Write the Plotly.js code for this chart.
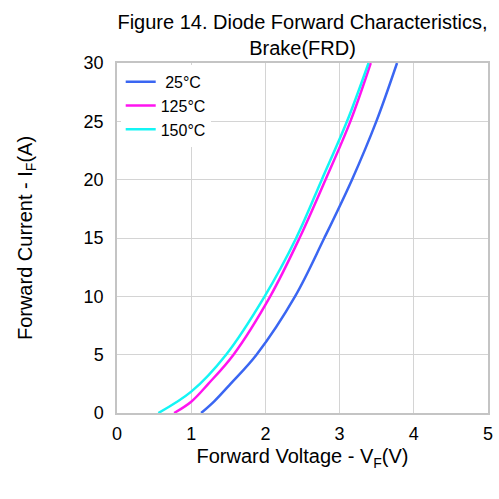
<!DOCTYPE html>
<html><head><meta charset="utf-8">
<script src="https://cdn.plot.ly/plotly-3.0.1.min.js"></script>
<style>body{margin:0;background:#fff}#c{width:499px;height:499px}</style>
</head><body><div id="c"></div>
<script>
var seriesNames = [" 25°C", "125°C", "150°C"];
var v25 = [1.134, 1.31, 1.53, 1.88, 2.40, 2.794, 3.167, 3.495, 3.774];
var i25 = [0, 1, 2.5, 5, 10, 15, 20, 25, 30];
var v125 = [0.77, 1.0, 1.23, 1.57, 2.065, 2.46, 2.81, 3.145, 3.42];
var i125 = [0, 0.97, 2.5, 5, 10, 15, 20, 25, 30];
var v150 = [0.557, 1.0, 1.47, 1.99, 2.415, 2.76, 3.10, 3.39];
var i150 = [0, 1.83, 5, 10, 15, 20, 25, 30];
var colors = ["#3a66f2", "#ff14f0", "#14f5f5"];

var traces = [
  {x: v25, y: i25, name: seriesNames[0], mode: "lines", line: {color: colors[0], width: 2.5, shape: "spline", smoothing: 1}},
  {x: v125, y: i125, name: seriesNames[1], mode: "lines", line: {color: colors[1], width: 2.5, shape: "spline", smoothing: 1}},
  {x: v150, y: i150, name: seriesNames[2], mode: "lines", line: {color: colors[2], width: 2.5, shape: "spline", smoothing: 1}}
];
var layout = {
  width: 499, height: 499,
  margin: {l: 117, r: 11, t: 63, b: 86},
  paper_bgcolor: "#fff", plot_bgcolor: "#fff",
  font: {family: "Liberation Sans, Arial, sans-serif", size: 18, color: "#000"},
  title: {text: "Figure 14. Diode Forward Characteristics,<br>Brake(FRD)", x: 0.5, xref: "paper", xanchor: "center",
          y: 1, yref: "paper", yanchor: "bottom", pad: {b: 34}, font: {size: 20}},
  xaxis: {range: [0, 5], dtick: 1, showgrid: true, gridcolor: "#d4d4d4", gridwidth: 1.2,
          showline: true, linecolor: "#c4c4c4", linewidth: 1.5, mirror: true, zeroline: false, ticks: "",
          ticklabelstandoff: 4,
          title: {text: "Forward Voltage - V<sub>F</sub>(V)", font: {size: 20}, standoff: 6}},
  yaxis: {range: [0, 30], dtick: 5, showgrid: true, gridcolor: "#d4d4d4", gridwidth: 1.2,
          showline: true, linecolor: "#c4c4c4", linewidth: 1.5, mirror: true, zeroline: false, ticks: "",
          ticklabelstandoff: 8,
          title: {text: "Forward Current - I<sub>F</sub>(A)", font: {size: 20}, standoff: 46}},
  legend: {x: 0.01, y: 0.995, xanchor: "left", yanchor: "top", bgcolor: "#fff", borderwidth: 0,
           font: {size: 16}, tracegroupgap: 0, itemwidth: 30},
  showlegend: true
};
Plotly.newPlot("c", traces, layout, {displayModeBar: false});
</script></body></html>
